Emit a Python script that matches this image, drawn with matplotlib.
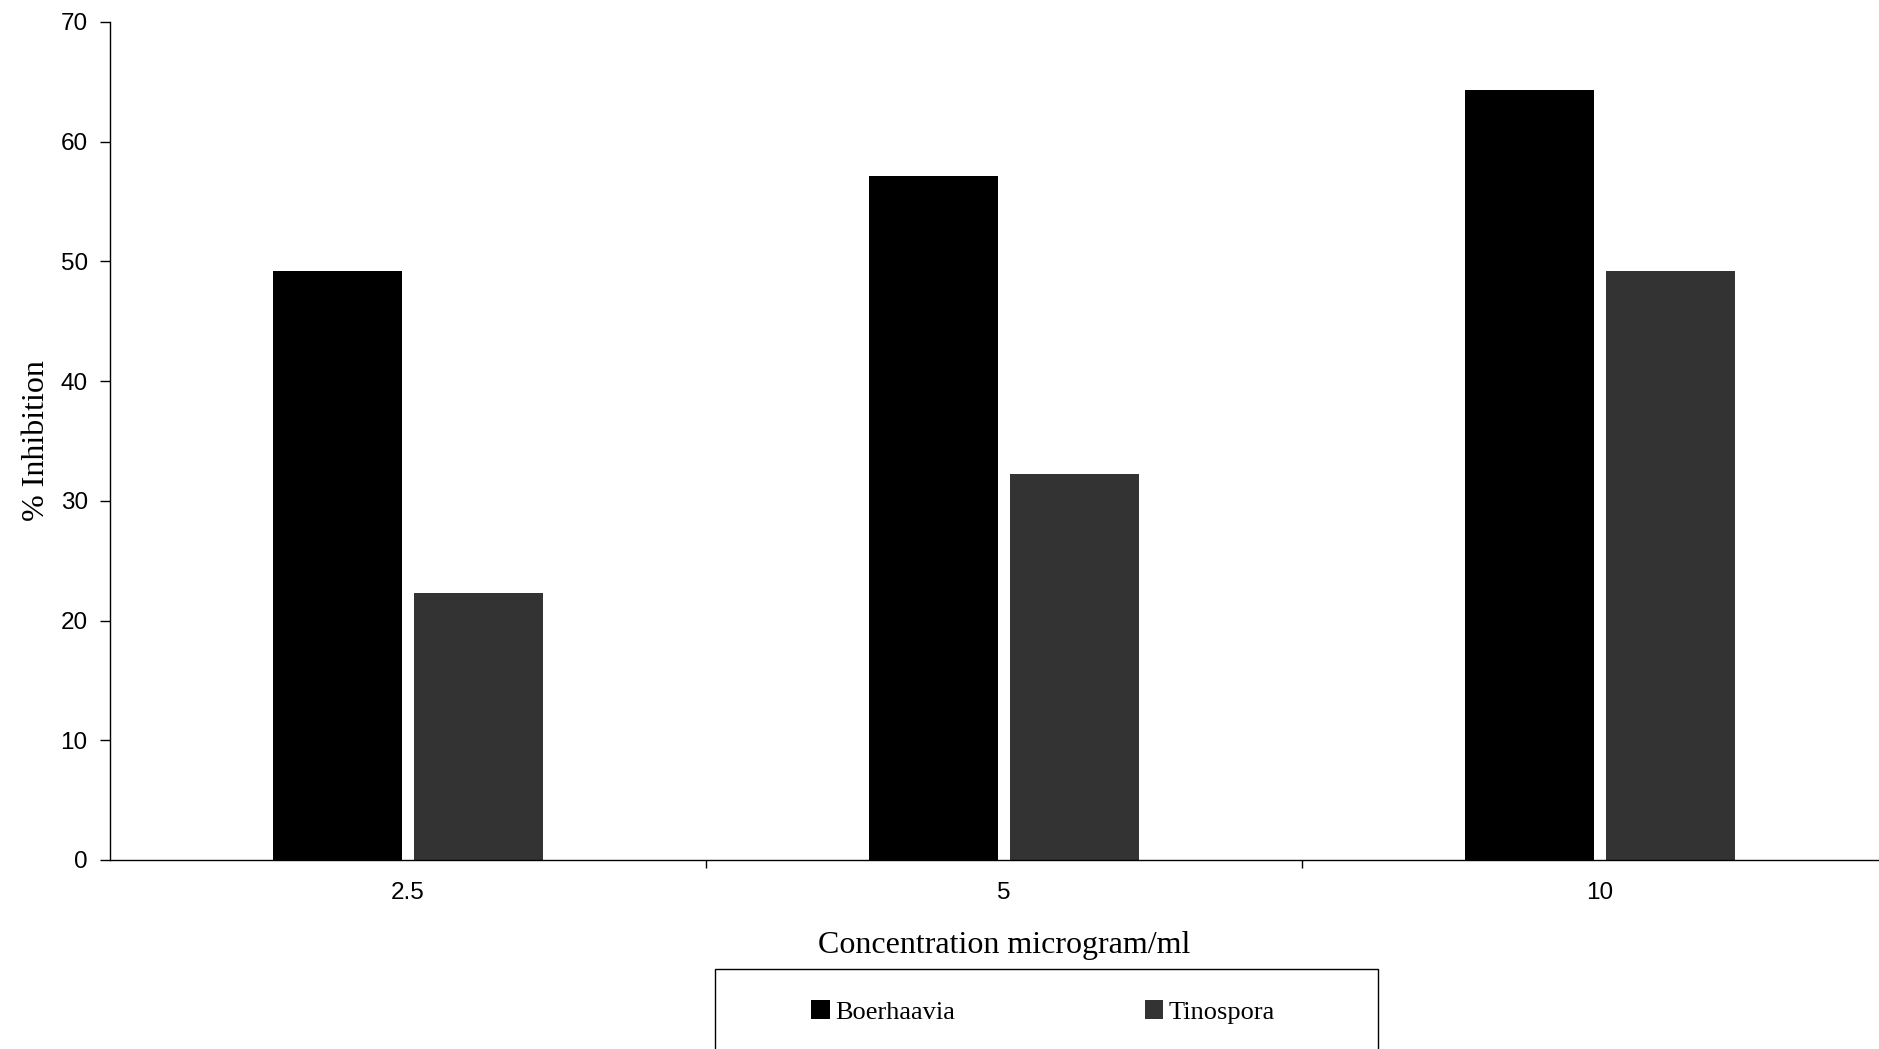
import matplotlib.pyplot as plt
from matplotlib.patches import Patch, Rectangle

concentrations = ["2.5", "5", "10"]
boerhaavia = [49.2, 57.1, 64.3]
tinospora = [22.3, 32.2, 49.2]

SANS = "Liberation Sans"
SERIF = "Liberation Serif"
TINO_GREY = "#333333"

fig = plt.figure(figsize=(18.79, 10.49), dpi=100)
ax = fig.add_axes([0.0585, 0.1802, 0.9516, 0.7989])

x = list(range(len(concentrations)))
width = 0.217
offset = 0.118
ax.bar([i - offset for i in x], boerhaavia, width, color="black", label="Boerhaavia")
ax.bar([i + offset for i in x], tinospora, width, color=TINO_GREY, label="Tinospora")

ax.set_xlim(-0.5, len(concentrations) - 0.5)
ax.set_ylim(0, 70)
ax.set_yticks(range(0, 71, 10))

# category labels sit in the middle, tick marks sit on the category borders
ax.set_xticks(x)
ax.set_xticklabels(concentrations, fontsize=17.5, family=SANS)
ax.tick_params(axis="x", which="major", length=0, pad=16)
ax.set_xticks([0.5, 1.5], minor=True)
ax.tick_params(axis="x", which="minor", length=6, width=1, direction="out")
ax.tick_params(axis="y", length=7, width=1, direction="out", pad=9, labelsize=17.5)
for lbl in ax.get_yticklabels():
    lbl.set_family(SANS)

for side in ("top", "right"):
    ax.spines[side].set_visible(False)
for side in ("left", "bottom"):
    ax.spines[side].set_linewidth(1)

ax.set_xlabel("Concentration microgram/ml", fontsize=23, family=SERIF, labelpad=19)
ax.set_ylabel("% Inhibition", fontsize=23, family=SERIF, labelpad=7)

# legend box runs off the bottom of the figure
fig.patches.append(Rectangle((0.3805, -0.03), 0.3528, 0.1063, transform=fig.transFigure,
                             fill=False, edgecolor="black", linewidth=1))
handles = [Patch(facecolor="black", edgecolor="none"),
           Patch(facecolor=TINO_GREY, edgecolor="none")]
fig.legend(handles, ["Boerhaavia", "Tinospora"], loc="center",
           bbox_to_anchor=(0.555, 0.0353), ncol=2, frameon=False,
           prop={"family": SERIF, "size": 19}, handlelength=0.7, handleheight=0.7,
           handletextpad=0.2, columnspacing=7.2)

fig.savefig("out.png", dpi=100)
